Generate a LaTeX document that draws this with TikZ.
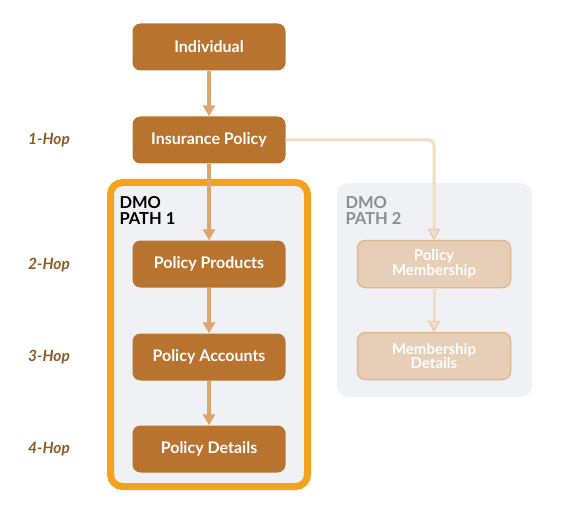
\documentclass[tikz,border=0pt]{standalone}
\usepackage{fontspec}
\setmainfont{Lato}
\usetikzlibrary{arrows.meta}
\definecolor{nodeBrown}{HTML}{B8732F}
\definecolor{hopBrown}{HTML}{8E5B28}
\definecolor{arrowTan}{HTML}{DDA46C}
\definecolor{pathOrange}{HTML}{F4A11D}
\definecolor{pathGray}{HTML}{F0F1F4}
\definecolor{fadeFill}{HTML}{E7CFB7}
\definecolor{fadeLine}{HTML}{DEB891}
\definecolor{fadeArrow}{HTML}{F4DBC3}
\definecolor{labelGray}{HTML}{8B8E94}
\newcommand{\hopFont}[0]{\fontsize{15.5}{17}\selectfont\bfseries\itshape}

\begin{document}
\begin{tikzpicture}[x=1pt,y=-1pt]
  \tikzset{entity/.style={rectangle,rounded corners=8,fill=nodeBrown,text=white,
      minimum width=153,minimum height=47,font=\fontsize{16}{18}\selectfont\bfseries},
    faded entity/.style={entity,fill=fadeFill,draw=fadeLine,line width=1.5,
      align=center,font=\fontsize{15}{13.5}\selectfont\bfseries},
    hop/.style={text=hopBrown,font=\hopFont},
    path label/.style={anchor=north west,align=left,
      font=\fontsize{16.5}{15.5}\selectfont\bfseries},
    link/.style={draw=arrowTan,line width=3.5,-{Triangle[length=11,width=12]}},
    faded link/.style={draw=fadeArrow,line width=3,rounded corners=5,
      -{Triangle[length=11,width=12,fill=fadeArrow,color=fadeLine,line width=0.6]}}}
  \useasboundingbox (0,0) rectangle (562,513);
  % DMO path boxes
  \fill[pathGray,rounded corners=11] (337,183) rectangle (532,397);
  \draw[pathOrange,fill=pathGray,line width=7,rounded corners=12] (110.5,182.5) rectangle (307.5,486.5);
  \node[path label] (Path-1) at (116,193) {DMO\\PATH 1};
  \node[path label,text=labelGray] (Path-2) at (342,193) {DMO\\PATH 2};
  % entities
  \node[entity] (Individual) at (209,47) {Individual};
  \node[entity] (Insurance) at (209,140) {Insurance Policy};
  \node[entity] (Products) at (209,264) {Policy Products};
  \node[entity] (Accounts) at (209,357) {Policy Accounts};
  \node[entity] (Details) at (209,449) {Policy Details};
  \node[faded entity] (Membership) at (434,264) {Policy\\Membership};
  \node[faded entity] (Member-Details) at (434,356) {Membership\\Details};
  % hops
  \node[hop] (Hop-1) at (49,140) {1-Hop};
  \node[hop] (Hop-2) at (49,265) {2-Hop};
  \node[hop] (Hop-3) at (49,357) {3-Hop};
  \node[hop] (Hop-4) at (49,449) {4-Hop};
  % links
  \draw[link] (Individual) -- (Insurance);
  \draw[link] (Insurance) -- (Products);
  \draw[link] (Products) -- (Accounts);
  \draw[link] (Accounts) -- (Details);
  \draw[faded link] (Insurance.east) -| (Membership.north);
  \draw[faded link] (Membership) -- (Member-Details);
\end{tikzpicture}
\end{document}
